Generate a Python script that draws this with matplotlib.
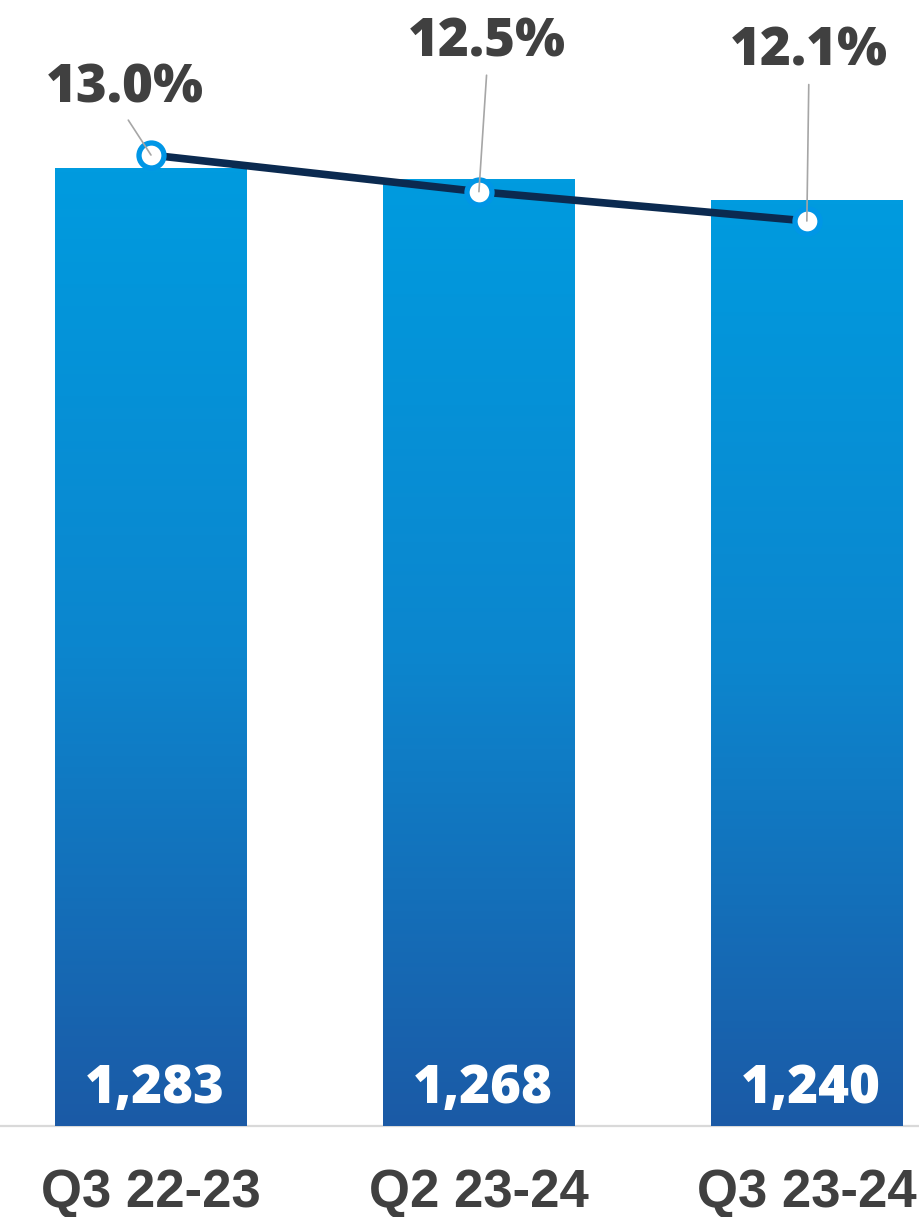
import numpy as np
import matplotlib
matplotlib.use("Agg")
import matplotlib.pyplot as plt
from matplotlib.colors import LinearSegmentedColormap

# data
quarters = ['Q3 22-23', 'Q2 23-24', 'Q3 23-24']
counts = [1283, 1268, 1240]
count_labels = ['1,283', '1,268', '1,240']
shares = [13.0, 12.5, 12.1]
share_labels = ['13.0%', '12.5%', '12.1%']

# label offsets in pixels (text baseline relative to marker)
share_offsets = [(-26, 53), (8, 135), (2, 155)]

W, H = 919, 1217
fig = plt.figure(figsize=(W / 100, H / 100), dpi=100)
ax = fig.add_axes([0, 1 - 1126 / H, 1, 1126 / H])

grad = LinearSegmentedColormap.from_list('bar', ['#1B5AA6', '#0C86CE', '#009BDF'])
x = np.arange(len(quarters))
width = 0.585
bars = ax.bar(x, counts, width=width, color='none', edgecolor='none')
g = np.linspace(0, 1, 256).reshape(-1, 1)
for b in bars:
    x0, w, h = b.get_x(), b.get_width(), b.get_height()
    ax.imshow(g, cmap=grad, origin='lower', aspect='auto',
              extent=(x0, x0 + w, 0, h), zorder=2)

for b, lab in zip(bars, count_labels):
    ax.annotate(lab, xy=(b.get_x() + b.get_width(), 0), xytext=(-22, 23),
                textcoords='offset pixels', ha='right', va='baseline',
                color='white', fontsize=38, fontweight=800,
                family='Open Sans', zorder=5)

ax.set_xlim(-0.4604, 2.342)
ax.set_ylim(0, 1508)
ax.axhline(0, color='#D9D9D9', lw=1.6, zorder=1, clip_on=False)
for s in ax.spines.values():
    s.set_visible(False)
ax.set_yticks([])
ax.set_xticks([])
for xi, q in zip(x, quarters):
    ax.text(xi, -0.0719, q, transform=ax.get_xaxis_transform(),
            ha='center', va='baseline', fontsize=38, fontweight='bold',
            family='Liberation Sans', color='#404040')

ax2 = ax.twinx()
ax2.set_ylim(-0.247, 15.115)
ax2.axis('off')
ax2.plot(x, shares, color='#0B2A50', lw=5.5, marker='o', ms=18,
         mfc='white', mec='#0096E6', mew=3.8, zorder=3)
for xi, v, lab, off in zip(x, shares, share_labels, share_offsets):
    ax2.annotate(lab, xy=(xi, v), xytext=off, textcoords='offset pixels',
                 ha='center', va='baseline', fontsize=38, fontweight=800,
                 family='Open Sans', color='#404040', zorder=6,
                 arrowprops=dict(arrowstyle='-', color='#A6A6A6', lw=1.2,
                                 relpos=(0.5, 0), shrinkA=2, shrinkB=0))

fig.savefig('out.png', dpi=100)
